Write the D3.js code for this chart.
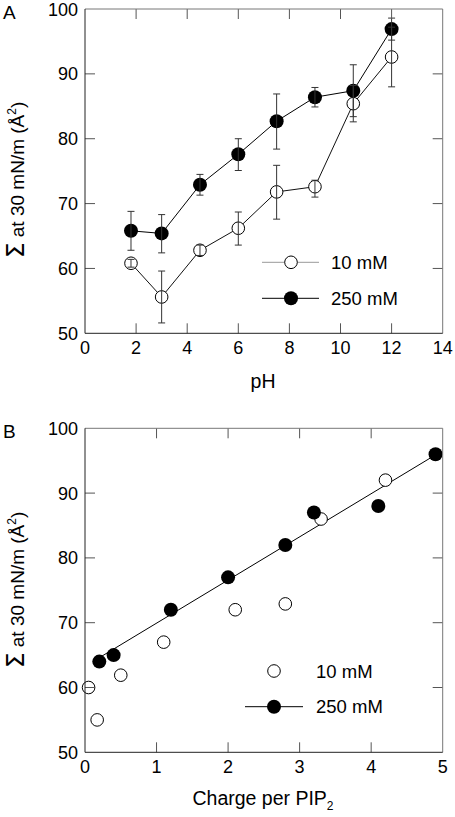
<!DOCTYPE html>
<html><head><meta charset="utf-8">
<script src="https://cdn.jsdelivr.net/npm/d3@7"></script>
<style>body{margin:0;background:#fff}svg{display:block}text{font-family:"Liberation Sans",Arial,sans-serif;fill:#000}</style>
</head><body>
<script>
// Panel A data
const pH = [1.8, 3, 4.5, 6, 7.5, 9, 10.5, 12];
const a10 = [60.8, 55.6, 62.8, 66.2, 71.8, 72.6, 85.4, 92.6];
const a10Lo = [60.2, 51.6, 62.0, 63.6, 67.6, 71.0, 82.6, 88.0];
const a10Hi = [61.4, 59.6, 63.6, 68.7, 75.9, 73.6, 88.2, 97.2];
const a250 = [65.8, 65.4, 72.9, 77.6, 82.7, 86.4, 87.4, 96.9];
const a250Lo = [62.8, 62.4, 71.3, 75.1, 78.4, 84.9, 83.4, 95.2];
const a250Hi = [68.8, 68.3, 74.5, 80.0, 86.9, 87.9, 91.4, 98.6];
const aXTicks = [0, 2, 4, 6, 8, 10, 12, 14];
const yTicks = [50, 60, 70, 80, 90, 100];
// Panel B data
const b10X = [0.05, 0.17, 0.5, 1.1, 2.1, 2.8, 3.3, 4.2];
const b10Y = [60, 55, 61.9, 67, 72, 72.9, 86, 92];
const b250X = [0.2, 0.4, 1.2, 2.0, 2.8, 3.2, 4.1, 4.9];
const b250Y = [64, 65, 72, 77, 82, 87, 88, 96];
const fitX = [0.2, 4.9];
const fitY = [64.6, 95.9];
const bXTicks = [0, 1, 2, 3, 4, 5];
const legendLabels = ["10 mM", "250 mM"];

const svg = d3.select("body").append("svg").attr("width", 455).attr("height", 817);

function frame(g, x, y, xTicks, top, bottom, left, right) {
  // ticks inward
  const inner = xTicks.filter(t => t !== x.domain()[0] && t !== x.domain()[1]);
  const innerY = yTicks.filter(t => t !== y.domain()[0] && t !== y.domain()[1]);
  const tk = g.append("g").attr("stroke", "#555").attr("stroke-width", 1);
  inner.forEach(t => {
    tk.append("line").attr("x1", x(t)).attr("x2", x(t)).attr("y1", bottom).attr("y2", bottom - 10);
    tk.append("line").attr("x1", x(t)).attr("x2", x(t)).attr("y1", top).attr("y2", top + 10);
  });
  innerY.forEach(t => {
    tk.append("line").attr("x1", left).attr("x2", left + 10).attr("y1", y(t)).attr("y2", y(t));
    tk.append("line").attr("x1", right).attr("x2", right - 10).attr("y1", y(t)).attr("y2", y(t));
  });
  g.append("line").attr("x1", left).attr("x2", right).attr("y1", top).attr("y2", top).attr("stroke", "#777");
  g.append("line").attr("x1", right).attr("x2", right).attr("y1", top).attr("y2", bottom).attr("stroke", "#777");
  g.append("line").attr("x1", left).attr("x2", right).attr("y1", bottom).attr("y2", bottom).attr("stroke", "#222");
  g.append("line").attr("x1", left).attr("x2", left).attr("y1", top).attr("y2", bottom).attr("stroke", "#222");
  // tick labels
  xTicks.forEach(t => g.append("text").attr("x", x(t)).attr("y", bottom + 21).attr("text-anchor", "middle")
    .attr("font-size", 18).text(t));
  yTicks.forEach(t => g.append("text").attr("x", left - 7).attr("y", y(t) + 6.5).attr("text-anchor", "end")
    .attr("font-size", 18).text(t));
}

function yLabel(g, cy) {
  const t = g.append("text").attr("transform", `translate(24,${cy}) rotate(-90)`).attr("text-anchor", "middle").attr("font-size", 19);
  t.append("tspan").attr("font-size", 25).attr("font-family", "DejaVu Sans").text("Σ");
  t.append("tspan").text(" at 30 mN/m (Å");
  t.append("tspan").attr("font-size", 12).attr("dy", -8).text("2");
  t.append("tspan").attr("dy", 8).text(")");
}

// ---------- Panel A ----------
{
  const left = 85, right = 442.7, top = 9, bottom = 333.3;
  const x = d3.scaleLinear().domain([0, 14]).range([left, right]);
  const y = d3.scaleLinear().domain([50, 100]).range([bottom, top]);
  const g = svg.append("g");
  const line = d3.line().x(d => x(d[0])).y(d => y(d[1]));
  const s10 = pH.map((p, i) => [p, a10[i]]);
  const s250 = pH.map((p, i) => [p, a250[i]]);
  g.append("path").attr("d", line(s10)).attr("fill", "none").attr("stroke", "#111").attr("stroke-width", 1);
  g.append("path").attr("d", line(s250)).attr("fill", "none").attr("stroke", "#000").attr("stroke-width", 1);
  g.selectAll(".o").data(s10).join("circle").attr("cx", d => x(d[0])).attr("cy", d => y(d[1])).attr("r", 6.3)
    .attr("fill", "#fff").attr("stroke", "#000").attr("stroke-width", 1);
  g.selectAll(".f").data(s250).join("circle").attr("cx", d => x(d[0])).attr("cy", d => y(d[1])).attr("r", 7)
    .attr("fill", "#000");
  const eb = g.append("g").attr("stroke", "#333").attr("stroke-width", 1);
  function errs(lo, hi) {
    pH.forEach((p, i) => {
      const cx = x(p);
      eb.append("line").attr("x1", cx).attr("x2", cx).attr("y1", y(lo[i])).attr("y2", y(hi[i]));
      eb.append("line").attr("x1", cx - 3.5).attr("x2", cx + 3.5).attr("y1", y(lo[i])).attr("y2", y(lo[i]));
      eb.append("line").attr("x1", cx - 3.5).attr("x2", cx + 3.5).attr("y1", y(hi[i])).attr("y2", y(hi[i]));
    });
  }
  errs(a10Lo, a10Hi);
  errs(a250Lo, a250Hi);
  frame(g, x, y, aXTicks, top, bottom, left, right);
  g.append("text").attr("x", 263).attr("y", 388).attr("text-anchor", "middle").attr("font-size", 19.5).text("pH");
  yLabel(g, 180);
  g.append("text").attr("x", 3).attr("y", 19).attr("font-size", 19).text("A");
  // legend
  const lg = g.append("g");
  lg.append("line").attr("x1", 262).attr("x2", 319).attr("y1", 262.3).attr("y2", 262.3).attr("stroke", "#999");
  lg.append("circle").attr("cx", 291).attr("cy", 262.3).attr("r", 6.3).attr("fill", "#fff").attr("stroke", "#000");
  lg.append("text").attr("x", 331).attr("y", 268.8).attr("font-size", 18.5).text(legendLabels[0]);
  lg.append("line").attr("x1", 262).attr("x2", 319).attr("y1", 298.3).attr("y2", 298.3).attr("stroke", "#000");
  lg.append("circle").attr("cx", 291).attr("cy", 298.3).attr("r", 7).attr("fill", "#000");
  lg.append("text").attr("x", 331).attr("y", 304.8).attr("font-size", 18.5).text(legendLabels[1]);
}

// ---------- Panel B ----------
{
  const left = 85, right = 442.7, top = 428.3, bottom = 752.3;
  const x = d3.scaleLinear().domain([0, 5]).range([left, right]);
  const y = d3.scaleLinear().domain([50, 100]).range([bottom, top]);
  const g = svg.append("g");
  g.append("line").attr("x1", x(fitX[0])).attr("x2", x(fitX[1])).attr("y1", y(fitY[0])).attr("y2", y(fitY[1]))
    .attr("stroke", "#000").attr("stroke-width", 1);
  g.selectAll(".o").data(b10X.map((v, i) => [v, b10Y[i]])).join("circle").attr("cx", d => x(d[0])).attr("cy", d => y(d[1]))
    .attr("r", 6.3).attr("fill", "#fff").attr("stroke", "#000");
  g.selectAll(".f").data(b250X.map((v, i) => [v, b250Y[i]])).join("circle").attr("cx", d => x(d[0])).attr("cy", d => y(d[1]))
    .attr("r", 7).attr("fill", "#000");
  frame(g, x, y, bXTicks, top, bottom, left, right);
  const t = g.append("text").attr("x", 263).attr("y", 805).attr("text-anchor", "middle").attr("font-size", 19.5);
  t.append("tspan").text("Charge per PIP");
  t.append("tspan").attr("font-size", 12).attr("dy", 5).text("2");
  yLabel(g, 590);
  g.append("text").attr("x", 3).attr("y", 438).attr("font-size", 19).text("B");
  const lg = g.append("g");
  lg.append("circle").attr("cx", 274).attr("cy", 671).attr("r", 6.3).attr("fill", "#fff").attr("stroke", "#000");
  lg.append("text").attr("x", 316).attr("y", 677.5).attr("font-size", 18.5).text(legendLabels[0]);
  lg.append("line").attr("x1", 245).attr("x2", 303).attr("y1", 706.7).attr("y2", 706.7).attr("stroke", "#000");
  lg.append("circle").attr("cx", 274).attr("cy", 706.7).attr("r", 7).attr("fill", "#000");
  lg.append("text").attr("x", 316).attr("y", 713.2).attr("font-size", 18.5).text(legendLabels[1]);
}
</script>
</body></html>
